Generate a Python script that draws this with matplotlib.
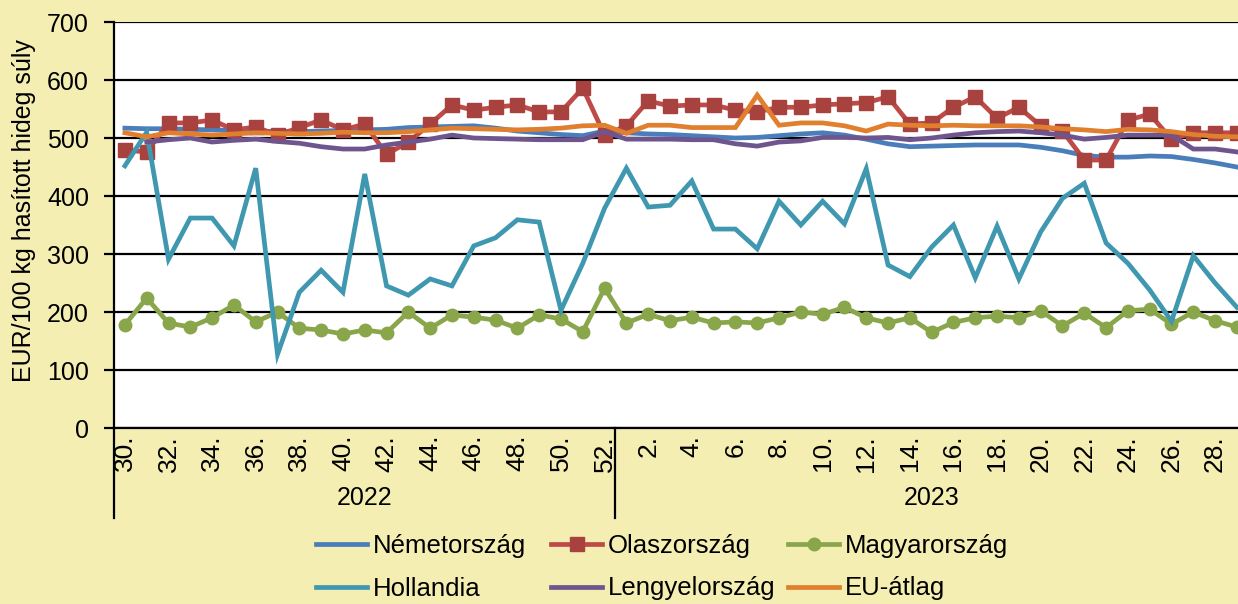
import numpy as np
import matplotlib.pyplot as plt

plt.rcParams['font.family'] = ['Liberation Sans', 'DejaVu Sans']

# weeks: 2022 w30..w52, 2023 w1..w29
weeks_2022 = list(range(30, 53))
weeks_2023 = list(range(1, 30))

nemetorszag = [517, 516, 516, 515, 514, 513, 512, 511, 511, 512, 513, 514, 515, 518, 519, 520, 521, 517, 512, 509, 506, 504, 512,
               509, 507, 506, 504, 502, 500, 501, 504, 507, 509, 505, 498, 490, 485, 486, 487, 488, 488, 488, 484, 478, 470, 467,
               467, 469, 468, 463, 457, 450]
olaszorszag = [479, 476, 526, 526, 531, 514, 519, 505, 518, 531, 514, 524, 472, 493, 524, 557, 548, 553, 557, 545, 545, 586, 505,
               521, 564, 555, 557, 557, 548, 545, 553, 553, 557, 559, 561, 571, 524, 526, 553, 571, 534, 553, 521, 512, 462, 462,
               531, 541, 498, 509, 509, 509]
magyarorszag = [178, 224, 181, 174, 190, 212, 183, 200, 172, 169, 162, 169, 164, 200, 172, 195, 191, 186, 172, 195, 188, 166, 241,
                181, 196, 185, 191, 181, 183, 181, 190, 200, 196, 208, 190, 181, 190, 165, 182, 190, 193, 190, 202, 176, 198, 173,
                202, 205, 179, 200, 185, 174]
hollandia = [452, 510, 291, 362, 362, 314, 448, 127, 234, 272, 234, 438, 245, 229, 257, 245, 314, 328, 359, 355, 203, 284, 379,
             448, 381, 384, 426, 343, 343, 309, 391, 350, 391, 352, 447, 281, 261, 312, 350, 259, 348, 257, 338, 396, 422, 319,
             284, 238, 184, 297, 250, 208]
lengyelorszag = [np.nan, 493, 497, 500, 493, 496, 498, 494, 491, 485, 481, 481, 488, 493, 498, 505, 500, 499, 498, 497, 497, 497, 511,
                 498, 498, 498, 497, 497, 490, 486, 493, 495, 501, 501, 500, 501, 497, 500, 505, 509, 511, 512, 509, 505, 498, 501,
                 505, 505, 505, 481, 481, 476]
eu_atlag = [509, 502, 509, 507, 505, 507, 509, 508, 507, 508, 510, 509, 509, 511, 514, 517, 516, 515, 514, 515, 517, 521, 522,
            508, 522, 522, 518, 518, 518, 574, 522, 526, 526, 521, 512, 524, 522, 521, 522, 521, 521, 521, 519, 516, 514, 511,
            515, 514, 511, 506, 503, 502]

series = [
    ('Németország', nemetorszag, '#4A7EBB', None, 0),
    ('Olaszország', olaszorszag, '#BE4B48', 's', 10),
    ('Magyarország', magyarorszag, '#8AA64B', 'o', 9),
    ('Hollandia', hollandia, '#3F98B0', None, 0),
    ('Lengyelország', lengyelorszag, '#6E558E', None, 0),
    ('EU-átlag', eu_atlag, '#E0802F', None, 0),
]
marker_colors = {'s': '#A8423F', 'o': '#8AA64B'}

n22 = len(weeks_2022)
x = np.arange(n22 + len(weeks_2023))
bg = '#F4EEB3'

fig = plt.figure(figsize=(12.38, 6.04), dpi=100, facecolor=bg)
ax = fig.add_axes([114 / 1238, 176 / 604, 1124 / 1238, 406 / 604])
ax.set_facecolor('white')

handles = {}
for name, vals, col, mk, ms in series:
    line, = ax.plot(x, vals, color=col, lw=3.4, marker=mk, markersize=ms,
                    markerfacecolor=marker_colors.get(mk, col), markeredgecolor=marker_colors.get(mk, col),
                    solid_joinstyle='miter', label=name, zorder=3)
    handles[name] = line

ax.set_ylim(0, 700)
ax.set_yticks(range(0, 701, 100))
ax.grid(axis='y', color='black', lw=1.6, zorder=1)
ax.set_xlim(-0.5, len(x) - 0.95)

labels = [f'{w}.' for w in weeks_2022] + [f'{w}.' for w in weeks_2023]
ticks = [i for i in x if (i < n22 and weeks_2022[i] % 2 == 0) or (i >= n22 and weeks_2023[i - n22] % 2 == 0)]
ax.set_xticks(ticks)
ax.set_xticklabels([labels[i] for i in ticks], rotation=90, fontsize=19)
ax.tick_params(axis='x', length=0, pad=5)
ax.tick_params(axis='y', length=7, width=1.6, labelsize=18, pad=11, direction='out')

for s in ['top', 'right']:
    ax.spines[s].set_visible(False)
ax.spines['left'].set_linewidth(1.6)
ax.spines['bottom'].set_linewidth(1.6)

# group separators and year labels
for xs in [-0.5, n22 - 0.5]:
    ax.plot([xs, xs], [0, -155], color='black', lw=1.6, clip_on=False)
ax.text((n22 - 1) / 2, -121, '2022', ha='center', va='center', fontsize=18)
ax.text(n22 + 14, -121, '2023', ha='center', va='center', fontsize=18)

fig.text(24 / 1238, 1 - 211 / 604, 'EUR/100 kg hasított hideg súly', rotation=90,
         ha='center', va='center', fontsize=18)

# legend: three columns with fixed positions
columns = [('Németország', 'Hollandia'), ('Olaszország', 'Lengyelország'), ('Magyarország', 'EU-átlag')]
col_x = [316, 551, 788]
for names, cx in zip(columns, col_x):
    leg = fig.legend([handles[k] for k in names], names, loc='upper left',
                     bbox_to_anchor=(cx / 1238, 1 - 534 / 604), frameon=False, fontsize=18.5,
                     handlelength=2.0, handletextpad=0.2, labelspacing=0.72, borderpad=0, borderaxespad=0)

fig.savefig('out.png', dpi=100, facecolor=bg)
